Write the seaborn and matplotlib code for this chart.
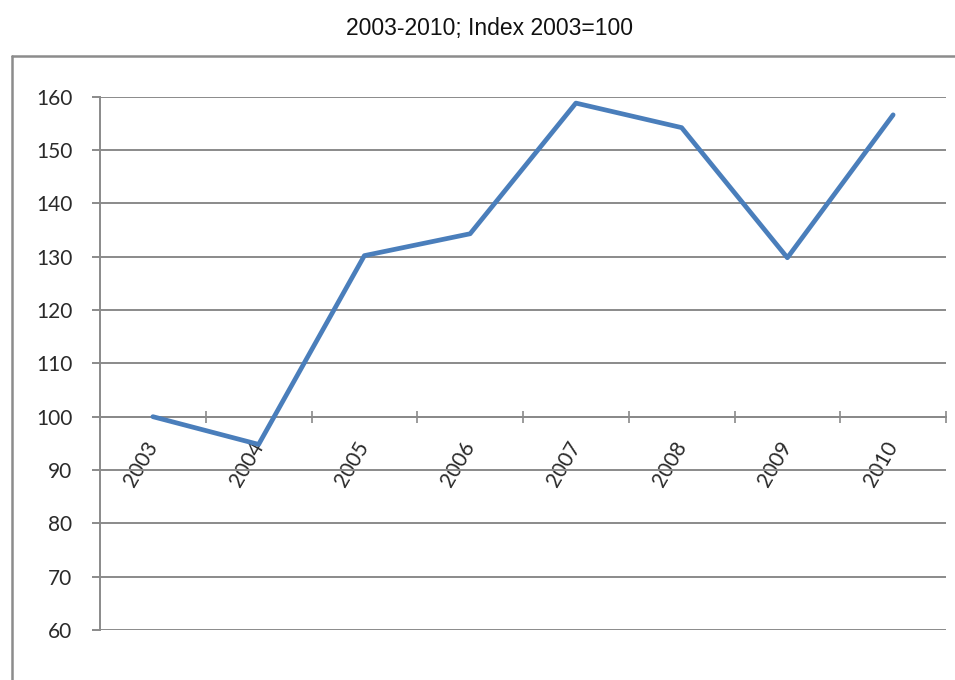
import matplotlib
matplotlib.use("Agg")
import matplotlib.pyplot as plt
import seaborn as sns
import pandas as pd
from matplotlib.lines import Line2D
from matplotlib.ticker import FixedLocator

years = ["2003", "2004", "2005", "2006", "2007", "2008", "2009", "2010"]
index_values = [100, 94.8, 130.2, 134.3, 158.8, 154.2, 129.8, 156.6]
y_ticks = [60, 70, 80, 90, 100, 110, 120, 130, 140, 150, 160]
title = "2003-2010; Index 2003=100"

df = pd.DataFrame({"year": years, "index": index_values})

sns.set_style("white")
plt.rcParams["font.family"] = ["Lato", "DejaVu Sans"]

fig = plt.figure(figsize=(9.55, 6.8), dpi=100)
ax = fig.add_axes([100 / 955, 1 - 630 / 680, 846 / 955, (630 - 96.7) / 680])

grid_c = "#8a8a8a"
text_c = "#2a2a2a"

for v in y_ticks:
    ax.axhline(v, color=grid_c, lw=1.4, zorder=1)

sns.lineplot(data=df, x="year", y="index", ax=ax, color="#4a7ebb", lw=3.4,
             sort=False, zorder=3)

ax.set_xlim(-0.5, len(years) - 0.5)
ax.set_ylim(60, 160)
ax.set_yticks(y_ticks)
ax.set_yticklabels([str(v) for v in y_ticks])
ax.set_xlabel("")
ax.set_ylabel("")

for s in ["top", "right"]:
    ax.spines[s].set_visible(False)
ax.spines["bottom"].set_position(("data", 100))
ax.spines["bottom"].set_color(grid_c)
ax.spines["bottom"].set_linewidth(1.4)
ax.spines["left"].set_color(grid_c)
ax.spines["left"].set_linewidth(1.4)

ax.set_xticks(range(len(years)))
ax.set_xticklabels(years)
ax.xaxis.set_minor_locator(FixedLocator([i - 0.5 for i in range(len(years) + 1)]))
ax.tick_params(axis="x", which="major", length=0, pad=19, labelsize=15,
               labelcolor=text_c)
ax.tick_params(axis="x", which="minor", bottom=True, length=8, width=1.2,
               direction="inout", color=grid_c)
ax.tick_params(axis="y", length=6, width=1.4, color=grid_c, pad=14,
               labelsize=15, labelcolor=text_c, left=True)
for lbl in ax.get_xticklabels():
    lbl.set_rotation(60)
    lbl.set_ha("right")
    lbl.set_va("center")
    lbl.set_rotation_mode("anchor")

# outer chart frame (partially cropped on right and bottom)
fx0 = 12 / 955
fy0 = 1 - 56 / 680
fig.add_artist(Line2D([fx0, fx0], [fy0, 0], transform=fig.transFigure,
                      color="#8c8c8c", lw=1.8))
fig.add_artist(Line2D([fx0, 1], [fy0, fy0], transform=fig.transFigure,
                      color="#8c8c8c", lw=1.8))

fig.text(0.5126, 1 - 28 / 680, title, ha="center", va="center",
         fontsize=16.5, family=["Liberation Sans", "DejaVu Sans"], color="#111111")

fig.savefig("out.png", dpi=100)
